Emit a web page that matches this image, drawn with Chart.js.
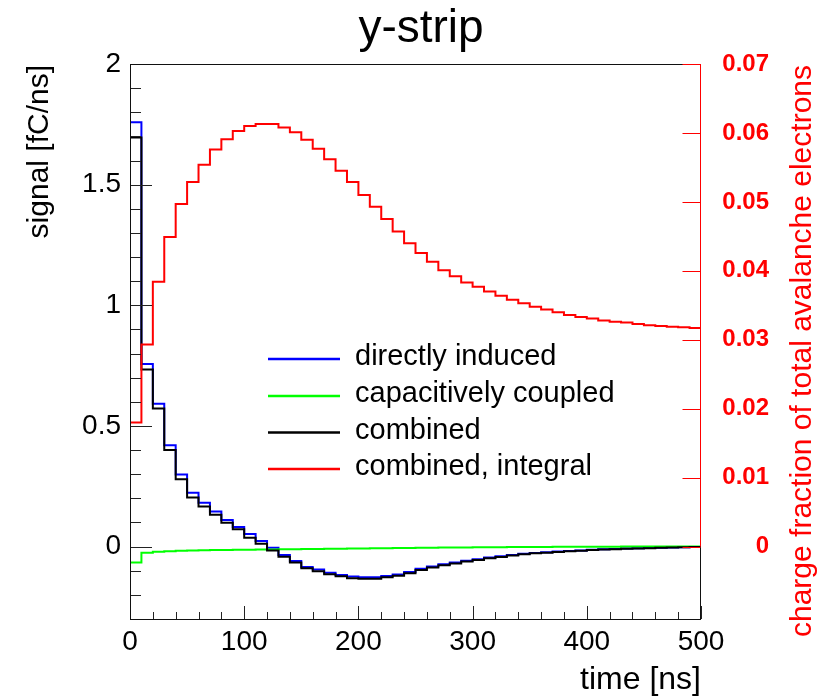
<!DOCTYPE html>
<html>
<head>
<meta charset="utf-8">
<title>y-strip</title>
<script src="https://cdn.jsdelivr.net/npm/chart.js@4.4.1/dist/chart.umd.min.js"></script>
<style>
  html, body { margin: 0; padding: 0; background: #fff; }
  #wrap { width: 827px; height: 698px; }
</style>
</head>
<body>
<div id="wrap"><canvas id="yStrip" width="827" height="698"></canvas></div>
<script>
/* histogram bins, 10 ns wide */
const binEdges = [0, 10, 20, 30, 40, 50, 60, 70, 80, 90,
  100, 110, 120, 130, 140, 150, 160, 170, 180, 190,
  200, 210, 220, 230, 240, 250, 260, 270, 280, 290,
  300, 310, 320, 330, 340, 350, 360, 370, 380, 390,
  400, 410, 420, 430, 440, 450, 460, 470, 480, 490, 500];

/* signal [fC/ns] per bin */
const directlyInduced = [1.759, 0.757, 0.592, 0.420, 0.299, 0.223, 0.182, 0.145, 0.110, 0.081,
  0.052, 0.023, -0.005, -0.035, -0.060, -0.084, -0.095, -0.108, -0.118, -0.124,
  -0.127, -0.127, -0.122, -0.116, -0.105, -0.092, -0.082, -0.073, -0.066, -0.059,
  -0.052, -0.045, -0.040, -0.035, -0.030, -0.026, -0.023, -0.020, -0.018, -0.016,
  -0.013, -0.011, -0.010, -0.008, -0.007, -0.006, -0.005, -0.004, -0.003, -0.002];

const capacitivelyCoupled = [-0.066, -0.025, -0.021, -0.019, -0.017, -0.016, -0.015, -0.014, -0.014, -0.013,
  -0.013, -0.012, -0.012, -0.011, -0.011, -0.010, -0.010, -0.009, -0.009, -0.008,
  -0.008, -0.007, -0.007, -0.006, -0.006, -0.005, -0.005, -0.004, -0.004, -0.004,
  -0.003, -0.003, -0.003, -0.002, -0.002, -0.002, -0.002, -0.001, -0.001, -0.001,
  -0.001, -0.001, -0.001, 0, 0, 0, 0, 0, 0, 0];

const combined = [1.695, 0.734, 0.572, 0.400, 0.279, 0.203, 0.166, 0.132, 0.099, 0.072,
  0.037, 0.012, -0.016, -0.042, -0.066, -0.090, -0.102, -0.115, -0.123, -0.131,
  -0.133, -0.133, -0.127, -0.121, -0.110, -0.097, -0.087, -0.077, -0.070, -0.062,
  -0.055, -0.048, -0.043, -0.037, -0.032, -0.028, -0.025, -0.022, -0.019, -0.017,
  -0.014, -0.012, -0.011, -0.009, -0.008, -0.007, -0.005, -0.004, -0.003, -0.002];

/* charge fraction of total avalanche electrons (right axis) */
const combinedIntegral = [0.0180, 0.0293, 0.0384, 0.0449, 0.0497, 0.0529, 0.0554, 0.0576, 0.0591, 0.0603,
  0.0610, 0.0613, 0.0613, 0.0608, 0.0601, 0.0590, 0.0577, 0.0562, 0.0545, 0.0529,
  0.0510, 0.0493, 0.0475, 0.0457, 0.0440, 0.0426, 0.0413, 0.0401, 0.0392, 0.0383,
  0.0377, 0.0370, 0.0364, 0.0358, 0.0353, 0.0348, 0.0344, 0.0340, 0.0336, 0.0333,
  0.0331, 0.0328, 0.0326, 0.0325, 0.0323, 0.0321, 0.0320, 0.0319, 0.0318, 0.0317];

/* tick labels */
const timeTicks = [0, 100, 200, 300, 400, 500];
const signalTicks = [0, 0.5, 1, 1.5, 2];
const fractionTicks = [0, 0.01, 0.02, 0.03, 0.04, 0.05, 0.06, 0.07];

const FONT = "'Liberation Sans', Arial, Helvetica, sans-serif";

// step points: left edge of each bin, plus the right edge of the last one
function histPoints(values) {
  const pts = values.map((v, i) => ({ x: binEdges[i], y: v }));
  pts.push({ x: binEdges[values.length], y: values[values.length - 1] });
  return pts;
}

function line(ctx, x1, y1, x2, y2) {
  ctx.beginPath();
  ctx.moveTo(x1, y1);
  ctx.lineTo(x2, y2);
  ctx.stroke();
}

/* ROOT-like frame: inner ticks, red right axis, titles, legend */
const rootFrame = {
  id: 'rootFrame',
  afterDatasetsDraw(chart) {
    const { ctx, chartArea: a, scales } = chart;
    const sx = scales.x, sy = scales.y, sy2 = scales.y2;
    ctx.save();
    ctx.lineWidth = 1;
    ctx.strokeStyle = '#222';

    // left axis ticks (major 0.5, minor 0.1)
    for (let i = -3; i <= 20; i++) {
      const py = Math.round(sy.getPixelForValue(i / 10)) + 0.5;
      line(ctx, a.left, py, a.left + (i % 5 === 0 ? 22 : 11), py);
    }
    // bottom axis ticks (major 100, minor 20)
    for (let t = 0; t <= 500; t += 20) {
      const px = Math.round(sx.getPixelForValue(t)) + 0.5;
      line(ctx, px, a.bottom, px, a.bottom - (t % 100 === 0 ? 13 : 7));
    }
    // frame
    ctx.strokeStyle = '#111';
    ctx.strokeRect(a.left + 0.5, a.top + 0.5, a.right - a.left - 1, a.bottom - a.top);

    // right (red) axis
    ctx.strokeStyle = '#ff0000';
    const rx = a.right - 0.5;
    line(ctx, rx, sy2.getPixelForValue(0), rx, sy2.getPixelForValue(0.07));
    fractionTicks.forEach(v => {
      const py = Math.round(sy2.getPixelForValue(v)) + 0.5;
      line(ctx, rx, py, rx - 18, py);
    });

    // title
    ctx.fillStyle = '#000';
    ctx.font = '46px ' + FONT;
    ctx.textAlign = 'center';
    ctx.textBaseline = 'alphabetic';
    ctx.fillText('y-strip', 421, 42);

    // x title
    ctx.font = '32px ' + FONT;
    ctx.textAlign = 'right';
    ctx.fillText('time [ns]', 701, 689);

    // left y title
    ctx.save();
    ctx.translate(40, 65);
    ctx.rotate(-Math.PI / 2);
    ctx.font = '30px ' + FONT;
    ctx.textAlign = 'right';
    ctx.textBaseline = 'middle';
    ctx.fillText('signal [fC/ns]', 0, 0);
    ctx.restore();

    // right y title
    ctx.save();
    ctx.translate(803, 65);
    ctx.rotate(-Math.PI / 2);
    ctx.font = '30px ' + FONT;
    ctx.fillStyle = '#ff0000';
    ctx.textAlign = 'right';
    ctx.textBaseline = 'middle';
    ctx.fillText('charge fraction of total avalanche electrons', 0, 0);
    ctx.restore();

    // legend
    const rows = [359, 396, 432.5, 469];
    ctx.font = '29px ' + FONT;
    ctx.textAlign = 'left';
    ctx.textBaseline = 'middle';
    chart.data.datasets.forEach((ds, i) => {
      ctx.strokeStyle = ds.borderColor;
      ctx.lineWidth = 2.5;
      line(ctx, 268, rows[i], 340, rows[i]);
      ctx.fillStyle = '#000';
      ctx.fillText(ds.label, 355, rows[i] - 2);
    });
    ctx.restore();
  }
};

const histStyle = {
  stepped: 'before',
  pointRadius: 0,
  borderWidth: 2,
  tension: 0,
  fill: false,
  borderJoinStyle: 'miter'
};

const yStripChart = new Chart(document.getElementById('yStrip'), {
  type: 'line',
  data: {
    datasets: [
      { ...histStyle, label: 'directly induced', data: histPoints(directlyInduced), borderColor: '#0000ff', yAxisID: 'y', order: 3 },
      { ...histStyle, label: 'capacitively coupled', data: histPoints(capacitivelyCoupled), borderColor: '#00ff00', yAxisID: 'y', order: 2 },
      { ...histStyle, label: 'combined', data: histPoints(combined), borderColor: '#000000', yAxisID: 'y', order: 1 },
      { ...histStyle, label: 'combined, integral', data: histPoints(combinedIntegral), borderColor: '#ff0000', yAxisID: 'y2', order: 0 }
    ]
  },
  options: {
    responsive: false,
    animation: false,
    layout: { padding: { top: 64, left: 0, right: 58, bottom: 0 } },
    plugins: {
      legend: { display: false },
      tooltip: { enabled: false },
      title: { display: false }
    },
    scales: {
      x: {
        type: 'linear',
        position: 'bottom',
        min: 0,
        max: 500,
        grid: { display: false, drawTicks: false },
        border: { display: false },
        afterBuildTicks: s => { s.ticks = timeTicks.map(v => ({ value: v })); },
        afterFit: s => { s.height = 79; },
        ticks: { autoSkip: false, maxRotation: 0, padding: 6, color: '#000', font: { family: FONT, size: 28 } }
      },
      y: {
        type: 'linear',
        position: 'left',
        min: -0.3,
        max: 2,
        grid: { display: false, drawTicks: false },
        border: { display: false },
        afterBuildTicks: s => { s.ticks = signalTicks.map(v => ({ value: v })); },
        afterFit: s => { s.width = 130; },
        ticks: { padding: 9, color: '#000', font: { family: FONT, size: 28 }, callback: v => String(v) }
      },
      y2: {
        type: 'linear',
        position: 'right',
        min: -0.0105,
        max: 0.07,
        grid: { display: false, drawTicks: false },
        border: { display: false },
        afterBuildTicks: s => { s.ticks = fractionTicks.map(v => ({ value: v })); },
        afterFit: s => { s.width = 68; },
        ticks: {
          crossAlign: 'far',
          color: '#ff0000',
          font: { family: FONT, size: 24, weight: 'bold' },
          callback: v => (v === 0 ? '0' : v.toFixed(2))
        }
      }
    }
  },
  plugins: [rootFrame]
});
</script>
</body>
</html>
